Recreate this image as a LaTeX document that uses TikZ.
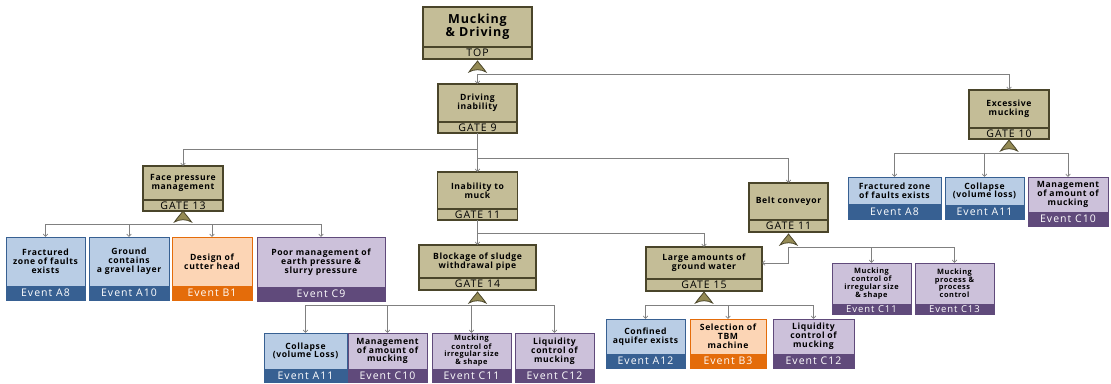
\documentclass[tikz,border=0pt]{standalone}
\usepackage{fontspec}
\setmainfont{Open Sans}[BoldFeatures={LetterSpace=7}]
\newfontfamily\spacedfont[LetterSpace=10]{Open Sans}
\usetikzlibrary{arrows.meta}
\definecolor{wiregray}{HTML}{808080}
\definecolor{gatetan}{HTML}{C4BD97}
\definecolor{gateedge}{HTML}{4A452A}
\definecolor{gateolive}{HTML}{948A54}
\definecolor{evbluelt}{HTML}{B9CDE5}
\definecolor{evblue}{HTML}{376092}
\definecolor{evorangelt}{HTML}{FCD5B5}
\definecolor{evorange}{HTML}{E46C0A}
\definecolor{evpurplelt}{HTML}{CCC1DA}
\definecolor{evpurple}{HTML}{604A7B}

\begin{document}
\begin{tikzpicture}[x=1pt, y=-1pt, >={Straight Barb[length=2.5pt,width=4.5pt]},
  wire/.style={wiregray, line width=0.7pt},
  gatehead/.style={draw=gateedge, fill=gatetan, line width=1.3pt, anchor=north west,
    outer sep=0pt, inner sep=1pt, align=center, font=\bfseries\fontsize{8.6}{8.8}\selectfont},
  gatefoot/.style={draw=gateedge, fill=gatetan, line width=1.3pt, anchor=north west,
    outer sep=0pt, inner sep=0pt, text=black, font=\spacedfont\fontsize{10.5}{10.5}\selectfont},
  evhead/.style={line width=1pt, anchor=north west, outer sep=0pt, inner sep=1pt,
    align=center, font=\bfseries\fontsize{8.6}{8.8}\selectfont},
  evfoot/.style={line width=1pt, anchor=north west, outer sep=0pt, inner sep=0pt,
    text=white, font=\spacedfont\fontsize{10.5}{10.5}\selectfont},
  bluehead/.style={evhead, draw=evblue, fill=evbluelt},
  bluefoot/.style={evfoot, draw=evblue, fill=evblue},
  orangehead/.style={evhead, draw=evorange, fill=evorangelt},
  orangefoot/.style={evfoot, draw=evorange, fill=evorange},
  purplehead/.style={evhead, draw=evpurple, fill=evpurplelt},
  purplefoot/.style={evfoot, draw=evpurple, fill=evpurple},
  smalltext/.style={font=\bfseries\fontsize{7.4}{7.3}\selectfont},
  orgate/.pic={\filldraw[fill=gateolive, draw=gateedge, line width=0.8pt]
    (-8.5,0) .. controls (-6,-4) and (-2,-8) .. (0,-11)
    .. controls (2,-8) and (6,-4) .. (8.5,0)
    .. controls (4,-3) and (-4,-3) .. cycle;}]
  \useasboundingbox (0,0) rectangle (1111,383);

  % gates
  \node[gatehead, minimum width=109, minimum height=40,
    font=\bfseries\fontsize{12.5}{12}\selectfont] (top) at (423,7) {Mucking\\\& Driving};
  \node[gatefoot, minimum width=109, minimum height=12] (top-f) at (top.south west) {TOP};
  \node[gatehead, minimum width=79, minimum height=38] (drive) at (438,84) {Driving\\inability};
  \node[gatefoot, minimum width=79, minimum height=11] (drive-f) at (drive.south west) {GATE 9};
  \node[gatehead, minimum width=80, minimum height=38] (excess) at (969,90) {Excessive\\mucking};
  \node[gatefoot, minimum width=80, minimum height=11] (excess-f) at (excess.south west) {GATE 10};
  \node[gatehead, minimum width=80, minimum height=34] (face) at (143,166) {Face pressure\\management};
  \node[gatefoot, minimum width=80, minimum height=11] (face-f) at (face.south west) {GATE 13};
  \node[gatehead, minimum width=80, minimum height=37] (muck) at (437.5,172) {Inability to\\muck};
  \node[gatefoot, minimum width=80, minimum height=11] (muck-f) at (muck.south west) {GATE 11};
  \node[gatehead, minimum width=79, minimum height=37] (belt) at (749,183) {Belt conveyor};
  \node[gatefoot, minimum width=79, minimum height=12] (belt-f) at (belt.south west) {GATE 11};
  \node[gatehead, minimum width=117, minimum height=33] (block) at (419,245) {Blockage of sludge\\withdrawal pipe};
  \node[gatefoot, minimum width=117, minimum height=12] (block-f) at (block.south west) {GATE 14};
  \node[gatehead, minimum width=116, minimum height=32] (large) at (646,247) {Large amounts of\\ground water};
  \node[gatefoot, minimum width=116, minimum height=12] (large-f) at (large.south west) {GATE 15};

  % events under gate 13
  \node[bluehead, minimum width=79, minimum height=49] (faceA8) at (6,237) {Fractured\\zone of faults\\exists};
  \node[bluefoot, minimum width=79, minimum height=14] (faceA8-f) at (faceA8.south west) {Event A8};
  \node[bluehead, minimum width=80, minimum height=49] (faceA10) at (89,237) {Ground\\contains\\a gravel layer};
  \node[bluefoot, minimum width=80, minimum height=14] (faceA10-f) at (faceA10.south west) {Event A10};
  \node[orangehead, minimum width=80, minimum height=49] (faceB1) at (172,237) {Design of\\cutter head};
  \node[orangefoot, minimum width=80, minimum height=14] (faceB1-f) at (faceB1.south west) {Event B1};
  \node[purplehead, minimum width=128, minimum height=50] (faceC9) at (257,237) {Poor management of\\earth pressure \&\\slurry pressure};
  \node[purplefoot, minimum width=128, minimum height=14] (faceC9-f) at (faceC9.south west) {Event C9};

  % events under gate 10
  \node[bluehead, minimum width=93, minimum height=27] (exA8) at (848,177) {Fractured zone\\of faults exists};
  \node[bluefoot, minimum width=93, minimum height=15] (exA8-f) at (exA8.south west) {Event A8};
  \node[bluehead, minimum width=79, minimum height=28] (exA11) at (945,177) {Collapse\\(volume loss)};
  \node[bluefoot, minimum width=79, minimum height=14] (exA11-f) at (exA11.south west) {Event A11};
  \node[purplehead, minimum width=80, minimum height=35] (exC10) at (1028,177) {Management\\of amount of\\mucking};
  \node[purplefoot, minimum width=80, minimum height=14] (exC10-f) at (exC10.south west) {Event C10};

  % events under belt conveyor
  \node[purplehead, smalltext, minimum width=79, minimum height=41] (beltC11) at (832,263) {Mucking\\control of\\irregular size\\\& shape};
  \node[purplefoot, minimum width=79, minimum height=10, font=\spacedfont\fontsize{9.5}{9.5}\selectfont] (beltC11-f) at (beltC11.south west) {Event C11};
  \node[purplehead, smalltext, minimum width=79, minimum height=41] (beltC13) at (915,263) {Mucking\\process \&\\process\\control};
  \node[purplefoot, minimum width=79, minimum height=10, font=\spacedfont\fontsize{9.5}{9.5}\selectfont] (beltC13-f) at (beltC13.south west) {Event C13};

  % events under gate 14
  \node[bluehead, minimum width=83, minimum height=36] (blkA11) at (264,333) {Collapse\\(volume Loss)};
  \node[bluefoot, minimum width=83, minimum height=13] (blkA11-f) at (blkA11.south west) {Event A11};
  \node[purplehead, minimum width=79, minimum height=36] (blkC10) at (348,333) {Management\\of amount of\\mucking};
  \node[purplefoot, minimum width=79, minimum height=13] (blkC10-f) at (blkC10.south west) {Event C10};
  \node[purplehead, smalltext, minimum width=79, minimum height=36] (blkC11) at (432,333) {Mucking\\control of\\irregular size\\\& shape};
  \node[purplefoot, minimum width=79, minimum height=13] (blkC11-f) at (blkC11.south west) {Event C11};
  \node[purplehead, minimum width=79, minimum height=36] (blkC12) at (515,333) {Liquidity\\control of\\mucking};
  \node[purplefoot, minimum width=79, minimum height=13] (blkC12-f) at (blkC12.south west) {Event C12};

  % events under gate 15
  \node[bluehead, minimum width=79, minimum height=35] (gwA12) at (606,319) {Confined\\aquifer exists};
  \node[bluefoot, minimum width=79, minimum height=14] (gwA12-f) at (gwA12.south west) {Event A12};
  \node[orangehead, minimum width=76, minimum height=35] (gwB3) at (690,319) {Selection of\\TBM\\machine};
  \node[orangefoot, minimum width=76, minimum height=14] (gwB3-f) at (gwB3.south west) {Event B3};
  \node[purplehead, minimum width=81, minimum height=35] (gwC12) at (773,319) {Liquidity\\control of\\mucking};
  \node[purplefoot, minimum width=81, minimum height=14] (gwC12-f) at (gwC12.south west) {Event C12};

  % junctions
  \coordinate (gtop) at (477.5,74);
  \coordinate (j9) at (477.5,149);
  \coordinate (j9b) at (477.5,158);
  \coordinate (j11) at (477.5,233);
  \coordinate (gface) at (183,224);
  \coordinate (gblock) at (477.5,305);
  \coordinate (glarge) at (704,305);
  \coordinate (gbelt) at (788.5,247);
  \coordinate (gex) at (1009,153);

  % connectors
  \draw[wire, ->] (gtop) -- (drive.north);
  \draw[wire, ->] (gtop) -| (excess.north);
  \draw[wire] (drive-f.south) -- (j9);
  \draw[wire, ->] (j9) -| (face.north);
  \draw[wire, ->] (j9) -- (muck.north);
  \draw[wire, ->] (j9b) -| (belt.north);
  \draw[wire] (muck-f.south) -- (j11);
  \draw[wire, ->] (j11) -- (block.north);
  \draw[wire, ->] (j11) -| (large.north);
  \draw[wire, ->] (gbelt) |- (large.east);
  \draw[wire, ->] (gbelt) -| (beltC11.north);
  \draw[wire, ->] (gbelt) -| (beltC13.north);
  \draw[wire, ->] (gface) -| (faceA8.north);
  \draw[wire, ->] (gface) -| (faceA10.north);
  \draw[wire, ->] (gface) -| (faceB1.north);
  \draw[wire, ->] (gface) -| (faceC9.north);
  \draw[wire, ->] (gblock) -| (blkA11.north);
  \draw[wire, ->] (gblock) -| (blkC10.north);
  \draw[wire, ->] (gblock) -| (blkC11.north);
  \draw[wire, ->] (gblock) -| (blkC12.north);
  \draw[wire, ->] (glarge) -| (gwA12.north);
  \draw[wire, ->] (glarge) -| (gwB3.north);
  \draw[wire, ->] (glarge) -| (gwC12.north);
  \draw[wire, ->] (gex) -| (exA8.north);
  \draw[wire, ->] (gex) -| (exA11.north);
  \draw[wire, ->] (gex) -| (exC10.north);

  % or-gate symbols
  \pic at (477.5,72) {orgate};
  \pic at (183,222) {orgate};
  \pic at (477.5,303) {orgate};
  \pic at (704,303) {orgate};
  \pic at (788.5,245) {orgate};
  \pic at (1009,151) {orgate};
\end{tikzpicture}
\end{document}
